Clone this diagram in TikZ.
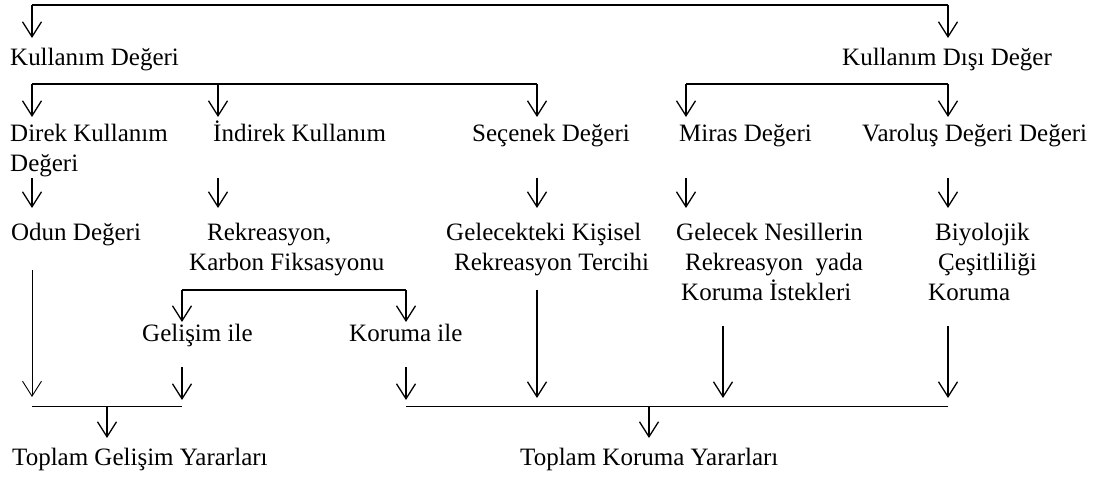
\documentclass[tikz,border=0pt]{standalone}
\usepackage{fontspec}
\setmainfont{Liberation Serif}
\usetikzlibrary{arrows.meta}
\begin{document}
\begin{tikzpicture}[x=1pt,y=-1pt,
  lbl/.style={anchor=base west, inner sep=0pt, font=\fontsize{25}{30}\selectfont},
  ln/.style={line width=1.5pt},
  thinln/.style={line width=1pt},
  arr/.style={line width=1.5pt, -{Straight Barb[length=15pt,width=19pt,line width=1.3pt]}},
  thinarr/.style={line width=0.9pt, -{Straight Barb[length=15pt,width=19pt,line width=0.9pt]}}]
\useasboundingbox (0,0) rectangle (1109,478);

% ---- texts ----
\node[lbl] (kd)  at (10,66)  {Kullanım Değeri};
\node[lbl] (kdd) at (842,66) {Kullanım Dışı Değer};

\node[lbl] (dir1) at (10,142)  {Direk Kullanım};
\node[lbl] (dir2) at (10,172)  {Değeri};
\node[lbl] (ind)  at (213,142) {İndirek Kullanım};
\node[lbl] (sec)  at (472,142) {Seçenek Değeri};
\node[lbl] (mir)  at (679,142) {Miras Değeri};
\node[lbl] (var)  at (862,142) {Varoluş Değeri Değeri};

\node[lbl] (odun) at (11,241)  {Odun Değeri};
\node[lbl] (rek1) at (207,241) {Rekreasyon,};
\node[lbl] (rek2) at (189,271) {Karbon Fiksasyonu};
\node[lbl] (gel1) at (446,241) {Gelecekteki Kişisel};
\node[lbl] (gel2) at (454,271) {Rekreasyon Tercihi};
\node[lbl] (nes1) at (676,241) {Gelecek Nesillerin};
\node[lbl] (nes2) at (685,271) {Rekreasyon\ \ yada};
\node[lbl] (nes3) at (681,301) {Koruma İstekleri};
\node[lbl] (biy1) at (935,241) {Biyolojik};
\node[lbl] (biy2) at (938,271) {Çeşitliliği};
\node[lbl] (biy3) at (928,301) {Koruma};

\node[lbl] (gil) at (142,342) {Gelişim ile};
\node[lbl] (kil) at (349,342) {Koruma ile};

\node[lbl] (tgy) at (12,465)  {Toplam Gelişim Yararları};
\node[lbl] (tky) at (520,465) {Toplam Koruma Yararları};

% ---- level 0 ----
\coordinate (r0l) at (32,5);
\coordinate (r0r) at (948,5);
\draw[ln] (r0l) -- (r0r);
\draw[arr] (r0l) -- ++(0,33);
\draw[arr] (r0r) -- ++(0,33);

% ---- level 1 : use values ----
\coordinate (u1) at (32,84);
\coordinate (u2) at (218,84);
\coordinate (u3) at (537,84);
\draw[ln] (u1) -- (u3);
\draw[arr] (u1) -- ++(0,33);
\draw[arr] (u2) -- ++(0,33);
\draw[arr] (u3) -- ++(0,33);

% ---- level 1 : non-use values ----
\coordinate (n1) at (686,84);
\coordinate (n2) at (948,84);
\draw[ln] (n1) -- (n2);
\draw[arr] (n1) -- ++(0,33);
\draw[arr] (n2) -- ++(0,33);

% ---- short arrows to examples ----
\coordinate (s1) at (32,178);
\coordinate (s2) at (218,178);
\coordinate (s3) at (537,178);
\coordinate (s4) at (686,178);
\coordinate (s5) at (948,178);
\foreach \c in {s1,s2,s3,s4,s5} \draw[arr] (\c) -- ++(0,30);

% ---- bracket under Karbon Fiksasyonu ----
\coordinate (b1) at (182,290);
\coordinate (b2) at (406,290);
\draw[ln] (b1) -- (b2);
\draw[arr] (b1) -- ++(0,32);
\draw[arr] (b2) -- ++(0,32);

% ---- long verticals ----
\coordinate (v1) at (32,270);
\coordinate (v1e) at (32,397);
\draw[thinarr] (v1) -- (v1e);
\coordinate (v2) at (537,290);
\coordinate (v2e) at (537,398);
\draw[arr] (v2) -- (v2e);
\coordinate (v3) at (723,326);
\coordinate (v3e) at (723,398);
\draw[arr] (v3) -- (v3e);
\coordinate (v4) at (948,326);
\coordinate (v4e) at (948,398);
\draw[arr] (v4) -- (v4e);
\coordinate (g1) at (182,367);
\coordinate (g1e) at (182,400);
\draw[arr] (g1) -- (g1e);
\coordinate (k1) at (406,367);
\coordinate (k1e) at (406,400);
\draw[arr] (k1) -- (k1e);

% ---- totals ----
\coordinate (L1) at (32,406);
\coordinate (L2) at (182,406);
\coordinate (Lm) at (107,406);
\draw[thinln] (L1) -- (L2);
\draw[arr] (Lm) -- ++(0,32);
\coordinate (R1) at (406,406);
\coordinate (R2) at (948,406);
\coordinate (Rm) at (649,406);
\draw[thinln] (R1) -- (R2);
\draw[arr] (Rm) -- ++(0,32);
\end{tikzpicture}
\end{document}
